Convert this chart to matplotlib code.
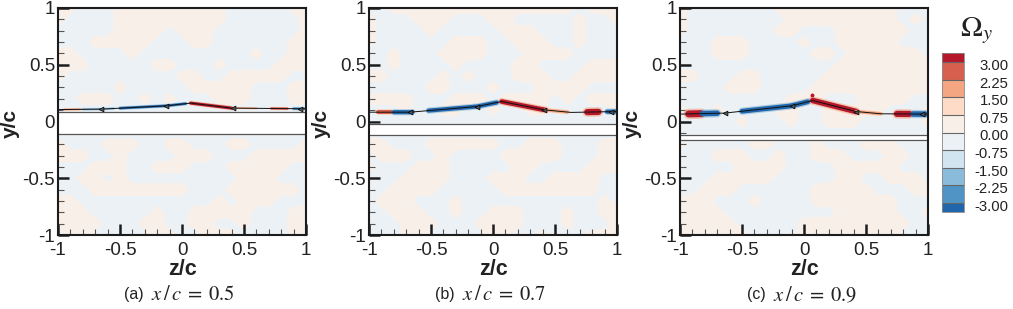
import numpy as np
import matplotlib
matplotlib.use("Agg")
import matplotlib.pyplot as plt
from matplotlib.colors import ListedColormap, BoundaryNorm
from matplotlib.ticker import MultipleLocator
from matplotlib.transforms import ScaledTranslation

plt.rcParams['font.family'] = ['Liberation Sans', 'DejaVu Sans']
plt.rcParams['mathtext.fontset'] = 'stix'

levels = [-3.0, -2.25, -1.5, -0.75, 0.0, 0.75, 1.5, 2.25, 3.0]
level_labels = ['-3.00', '-2.25', '-1.50', '-0.75', '0.00', '0.75', '1.50', '2.25', '3.00']
colors = ['#2166ac', '#4f94c4', '#8bbbda', '#d1e5f0', '#ecf1f5',
          '#f9efe9', '#fddbc7', '#f4a582', '#d6604d', '#b5172b']
captions = ['(a)', '(b)', '(c)']
stations = ['0.5', '0.7', '0.9']

field_a = ["++---+++++++++-----++", "+----+++++++++------+", "-----++++-+++-------+",
           "---+++++---++------++", "++----+---------+--++", "+++-----++---+----+++",
           "+---------++--+++++--", "-----+-----+++++---++", "--+++--+-+---+++---++",
           "---------------------", "---------------------", "---------------------",
           "+---+++--++---++----+", "+++--+----+++---+++++", "---+++--+++---+++++--",
           "--++-+---------+++---", "---++++++++---++++++-", "++-----------+-+++---",
           "+++-----+--+++++---++", "++++---++--++--+---++", "+++-----++--+++----+-"]
field_b = ["--+++++++++++++++-+++", "+---+++---++-----+--+", "+----+-----+++---+---",
           "+------+++--+++--+---", "--+---++++---++++----", "--+----+----++----+++",
           "++----+-+---+++--++++", "-----++---+---++++---", "++++---+++-++++-+-+++",
           "---+--++--+--++-----+", "---------------------", "---------------------",
           "++---++++++--+++---++", "-+++--+----+++++---++", "+---+++-----++----+++",
           "---++++---+++--++++--", "--++++-----++++++++--", "-+++---+-----------+-",
           "--+++--+--+++---+--++", "---+++---++++---+---+", "---++-----++--+---+++"]
field_c = ["+-------++++++++++---", "+--------+++++++++-+-", "+-------++---++++++--",
           "---+++----+--+++++---", "---+++-----++-++++++-", "-------------++++++++",
           "++---++-----+++++++++", "----+++----++++++++++", "---------+++---++++--",
           "+--+----++--+++++---+", "-----+---+--+++-----+", "---------------------",
           "+-----++---+---+++---", "---+++--+--+++---++--", "-----++++----+++++---",
           "---+++++-----++--+++-", "--+++------+++++---++", "+++---+----+++++++---",
           "++++---------+++++--+", "+++++-----+++++++++--", "++++++----++++++++---"]

sheet_z_a = [-1, -0.65, -0.13, 0.07, 0.4, 1]
sheet_y_a = [0.105, 0.109, 0.138, 0.162, 0.118, 0.112]
sheet_z_b = [-1, -0.67, -0.13, 0.07, 0.41, 0.63, 1]
sheet_y_b = [0.082, 0.082, 0.132, 0.176, 0.103, 0.08, 0.088]
sheet_z_c = [-1, -0.64, -0.1, 0.07, 0.42, 0.62, 1]
sheet_y_c = [0.065, 0.074, 0.138, 0.185, 0.088, 0.068, 0.065]

arrows_a = [-0.65, -0.13, 0.41, 0.95]
arrows_b = [-0.67, -0.13, 0.41, 0.95]
arrows_c = [-0.64, -0.1, 0.42, 0.95]

# z start, z end, vorticity, line width
spans_a = [(-0.95, -0.82, 1.5, 1.5), (-0.8, -0.55, -1.8, 1.5), (-0.5, 0.03, -3.2, 1.8),
           (0.07, 0.4, 3.2, 2.2), (0.4, 0.6, 1.5, 1.2), (0.72, 0.85, 2.6, 1.8), (0.9, 1.0, -2.6, 2.0)]
spans_b = [(-0.93, -0.82, 2.6, 3.0), (-0.8, -0.65, -3.2, 3.0), (-0.52, 0.03, -3.2, 3.0),
           (0.07, 0.42, 3.2, 3.4), (0.42, 0.6, 1.8, 2.4), (0.76, 0.85, 3.2, 4.5), (0.92, 1.0, -3.2, 3.0)]
spans_c = [(-0.93, -0.83, 3.2, 5.0), (-0.82, -0.7, -3.2, 4.0), (-0.5, 0.03, -3.2, 3.5),
           (0.07, 0.42, 3.2, 4.0), (0.42, 0.62, 1.8, 2.4), (0.75, 0.85, 3.2, 4.5), (0.88, 0.98, -3.2, 4.0)]

gap_a = (-0.109, 0.082)
gap_b = (-0.12, -0.018)
gap_c = (-0.162, -0.118)

axes_px = [(58, 306), (369, 617), (680, 928)]
panels = [(field_a, sheet_z_a, sheet_y_a, arrows_a, spans_a, gap_a),
          (field_b, sheet_z_b, sheet_y_b, arrows_b, spans_b, gap_b),
          (field_c, sheet_z_c, sheet_y_c, arrows_c, spans_c, gap_c)]

W, H = 1013, 309
fig = plt.figure(figsize=(W / 100, H / 100), dpi=100)
cmap = ListedColormap(colors[1:-1])
cmap.set_under(colors[0])
cmap.set_over(colors[-1])
norm = BoundaryNorm(levels, cmap.N)
DARK = '#1c1c1c'
cs = None
for (x0, x1), cap, st, (field, sz, sy, arrows, spans, gap) in zip(axes_px, captions, stations, panels):
    ax = fig.add_axes([x0 / W, 1 - 235 / H, (x1 - x0) / W, 227 / H])
    vals = np.array([[0.4 if ch == '+' else -0.4 for ch in row] for row in field])
    zz = np.linspace(-1, 1, vals.shape[1])
    yy = np.linspace(1, -1, vals.shape[0])
    cs = ax.contourf(zz, yy, vals, levels=levels, cmap=cmap, norm=norm, extend='both')
    ax.axhspan(gap[0], gap[1], color='white', zorder=2)
    for g in gap:
        ax.axhline(g, color='#555555', lw=0.9, zorder=3)
    for a, b, v, lw in spans:
        z = np.linspace(a, b, 12)
        y = np.interp(z, sz, sy)
        ax.plot(z, y, color=cmap(norm(v * 0.5)), lw=lw * 1.5, solid_capstyle='round', zorder=4, alpha=0.6)
        ax.plot(z, y, color=cmap(norm(v)), lw=lw, solid_capstyle='round', zorder=5)
    ax.plot(sz, sy, color='#111111', lw=0.7, zorder=6)
    ax.plot(arrows, np.interp(arrows, sz, sy), ls='none', marker='<', ms=3.5, mfc='#555555', mec='black',
            mew=0.5, zorder=7)
    if st == '0.9':
        ax.plot([0.065], [0.235], ls='none', marker='o', ms=1.8, color=colors[-1], zorder=5)
    ax.set_xlim(-1, 1)
    ax.set_ylim(-1, 1)
    for s in ax.spines.values():
        s.set_linewidth(1.5)
        s.set_color(DARK)
        s.set_zorder(10)
    ax.set_xticks([-1, -0.5, 0, 0.5, 1], ['-1', '-0.5', '0', '0.5', '1'])
    ax.set_yticks([-1, -0.5, 0, 0.5, 1], ['-1', '-0.5', '0', '0.5', '1'])
    ax.xaxis.set_minor_locator(MultipleLocator(0.1))
    ax.yaxis.set_minor_locator(MultipleLocator(0.1))
    ax.tick_params(which='major', direction='in', length=8, width=1.8, color=DARK, labelsize=13.5,
                   labelcolor='#222222', zorder=9)
    ax.tick_params(axis='x', which='major', pad=5)
    ax.tick_params(axis='y', which='major', pad=2)
    ax.tick_params(which='minor', direction='in', length=4.5, width=0.8, color='#555555')
    ax.set_xlabel('z/c', fontsize=15.5, fontweight='bold', labelpad=0, color='#222222')
    ax.set_ylabel('y/c', fontsize=15, fontweight='bold', labelpad=0, color='#222222')
    ax.xaxis.set_label_coords(0.5, -0.105)
    ax.yaxis.set_label_coords(-0.155, 0.49)
    xc = (x0 + x1) / 2
    fig.text((xc - 38) / W, 1 - 295 / H, cap, ha='right', va='center', fontsize=11.5, color='#222222')
    fig.text((xc - 31) / W, 1 - 295 / H, f'$x\\,/\\,c\\;=\\;{st}$', ha='left', va='center', fontsize=14.8,
             color='#222222')

cax = fig.add_axes([942 / W, 1 - 212 / H, 22 / W, 159 / H])
cb = fig.colorbar(cs, cax=cax, extend='both', extendrect=True, extendfrac=9 / 141, drawedges=True, spacing='uniform')
cb.dividers.set_color('#666666')
cb.dividers.set_linewidth(0.8)
cb.outline.set_edgecolor('#888888')
cb.outline.set_linewidth(0.6)
cb.set_ticks(levels, labels=level_labels)
cb.ax.tick_params(length=0, labelsize=10.7, pad=32, labelcolor='#222222')
offset = ScaledTranslation(0, -2.5 / 100, fig.dpi_scale_trans)
for lab in cb.ax.get_yticklabels():
    lab.set_horizontalalignment('right')
    lab.set_transform(lab.get_transform() + offset)
fig.text(976 / W, 1 - 31 / H, r'$\Omega_y$', ha='center', va='center', fontsize=21, color='#222222')

fig.savefig('out.png', dpi=100)
